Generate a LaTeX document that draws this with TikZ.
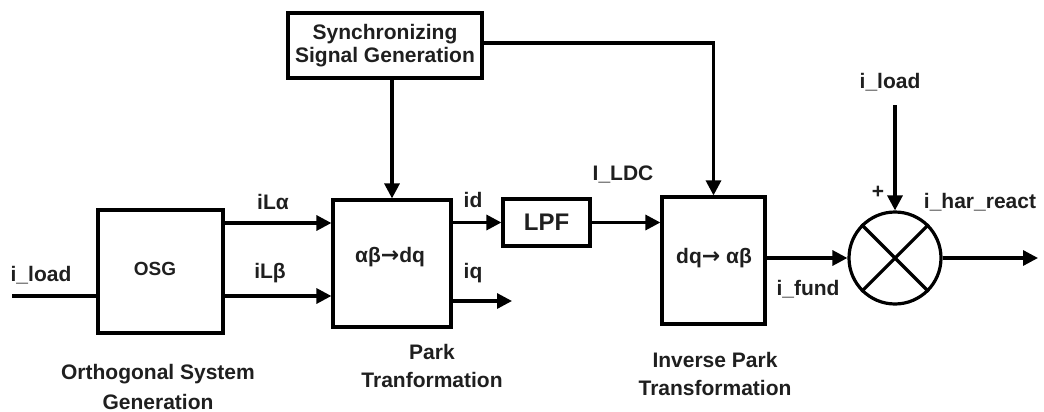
\documentclass[tikz,border=0pt]{standalone}
\usepackage{fontspec}
\setmainfont{Liberation Sans}
\newfontfamily\arrfont{DejaVu Sans}
\newcommand{\myarr}{{\arrfont\fontsize{22}{24}\selectfont →}}
\usetikzlibrary{arrows.meta,shapes.geometric}
\begin{document}
\begin{tikzpicture}[x=1pt,y=-1pt,
  blk/.style={draw,line width=3.2pt,rectangle,inner sep=0pt},
  txt/.style={font=\fontsize{21}{25}\selectfont\bfseries,inner sep=0pt,align=center,text=black!88},
  wire/.style={line width=3.2pt},
  arr/.style={line width=3.2pt,-{Triangle[length=15pt,width=15pt]}}]
\useasboundingbox (0,0) rectangle (1044,412);
% blocks
\node[blk,minimum width=125pt,minimum height=123pt] (osg) at (160.5,271.5) {};
\node[blk,minimum width=118pt,minimum height=127pt] (park) at (392,263.5) {};
\node[blk,minimum width=194pt,minimum height=65pt,txt,line width=3.2pt] (sync) at (385,45.5) {Synchronizing\\[-2pt]Signal Generation};
\node[blk,minimum width=87pt,minimum height=47pt,txt,font=\fontsize{24}{28}\selectfont\bfseries,line width=3.2pt] (lpf) at (546.5,222.5) {LPF};
\node[blk,minimum width=103pt,minimum height=127pt] (ipark) at (713.5,260.5) {};
\node[draw,circle,line width=3.2pt,minimum size=92pt,inner sep=0pt] (sum) at (895,258) {};
\draw[line width=3.2pt] (sum.45) -- (sum.225) (sum.135) -- (sum.315);
% coordinates
\coordinate (yA) at (0,223);
\coordinate (yB) at (0,296);
\coordinate (yQ) at (0,301);
\coordinate (yS) at (0,43);
\coordinate (inL) at (12,296);
\coordinate (iqend) at (512,301);
\coordinate (syncR) at (713.5,43);
\coordinate (loadtop) at (895,105);
\coordinate (outend) at (1038,258);
% connectors
\draw[wire] (inL) -- (osg.west |- yB);
\draw[arr] (osg.east |- yA) -- (park.west |- yA);
\draw[arr] (osg.east |- yB) -- (park.west |- yB);
\draw[arr] (park.north |- sync.south) -- (park.north);
\draw[arr] (park.east |- lpf.west) -- (lpf.west);
\draw[arr] (park.east |- yQ) -- (iqend);
\draw[arr] (lpf.east) -- (ipark.west |- lpf.east);
\draw[arr] (sync.east |- yS) -- (syncR) -- (ipark.north);
\draw[arr] (ipark.east |- sum.west) -- (sum.west);
\draw[arr] (loadtop) -- (sum.north);
\draw[arr] (sum.east) -- (outend);
% labels
\node[txt] (l1) at (41,275) {i\_load};
\node[txt] (l2) at (273,202) {iLα};
\node[txt] (l3) at (270,273) {iLβ};
\node[txt,font=\fontsize{19}{22}\selectfont\bfseries] (l4) at (155,269) {OSG};
\node[txt] (l5) at (390,257) {αβ\myarr dq};
\node[txt] (l6) at (473,200) {id};
\node[txt] (l7) at (473,273) {iq};
\node[txt] (l8) at (623,174) {I\_LDC};
\node[txt] (l9) at (714,258) {dq\myarr\ αβ};
\node[txt] (l10) at (808,289) {i\_fund};
\node[txt] (l11) at (890,82) {i\_load};
\node[txt] (l12) at (878,192) {+};
\node[txt] (l13) at (980,202) {i\_har\_react};
\node[txt] (l14) at (158,374) {Orthogonal System};
\node[txt] (l15) at (158,402) {Generation};
\node[txt] (l16) at (432,352) {Park};
\node[txt] (l17) at (432,380) {Tranformation};
\node[txt] (l18) at (715,360) {Inverse Park};
\node[txt] (l19) at (715,388) {Transformation};
\end{tikzpicture}
\end{document}
